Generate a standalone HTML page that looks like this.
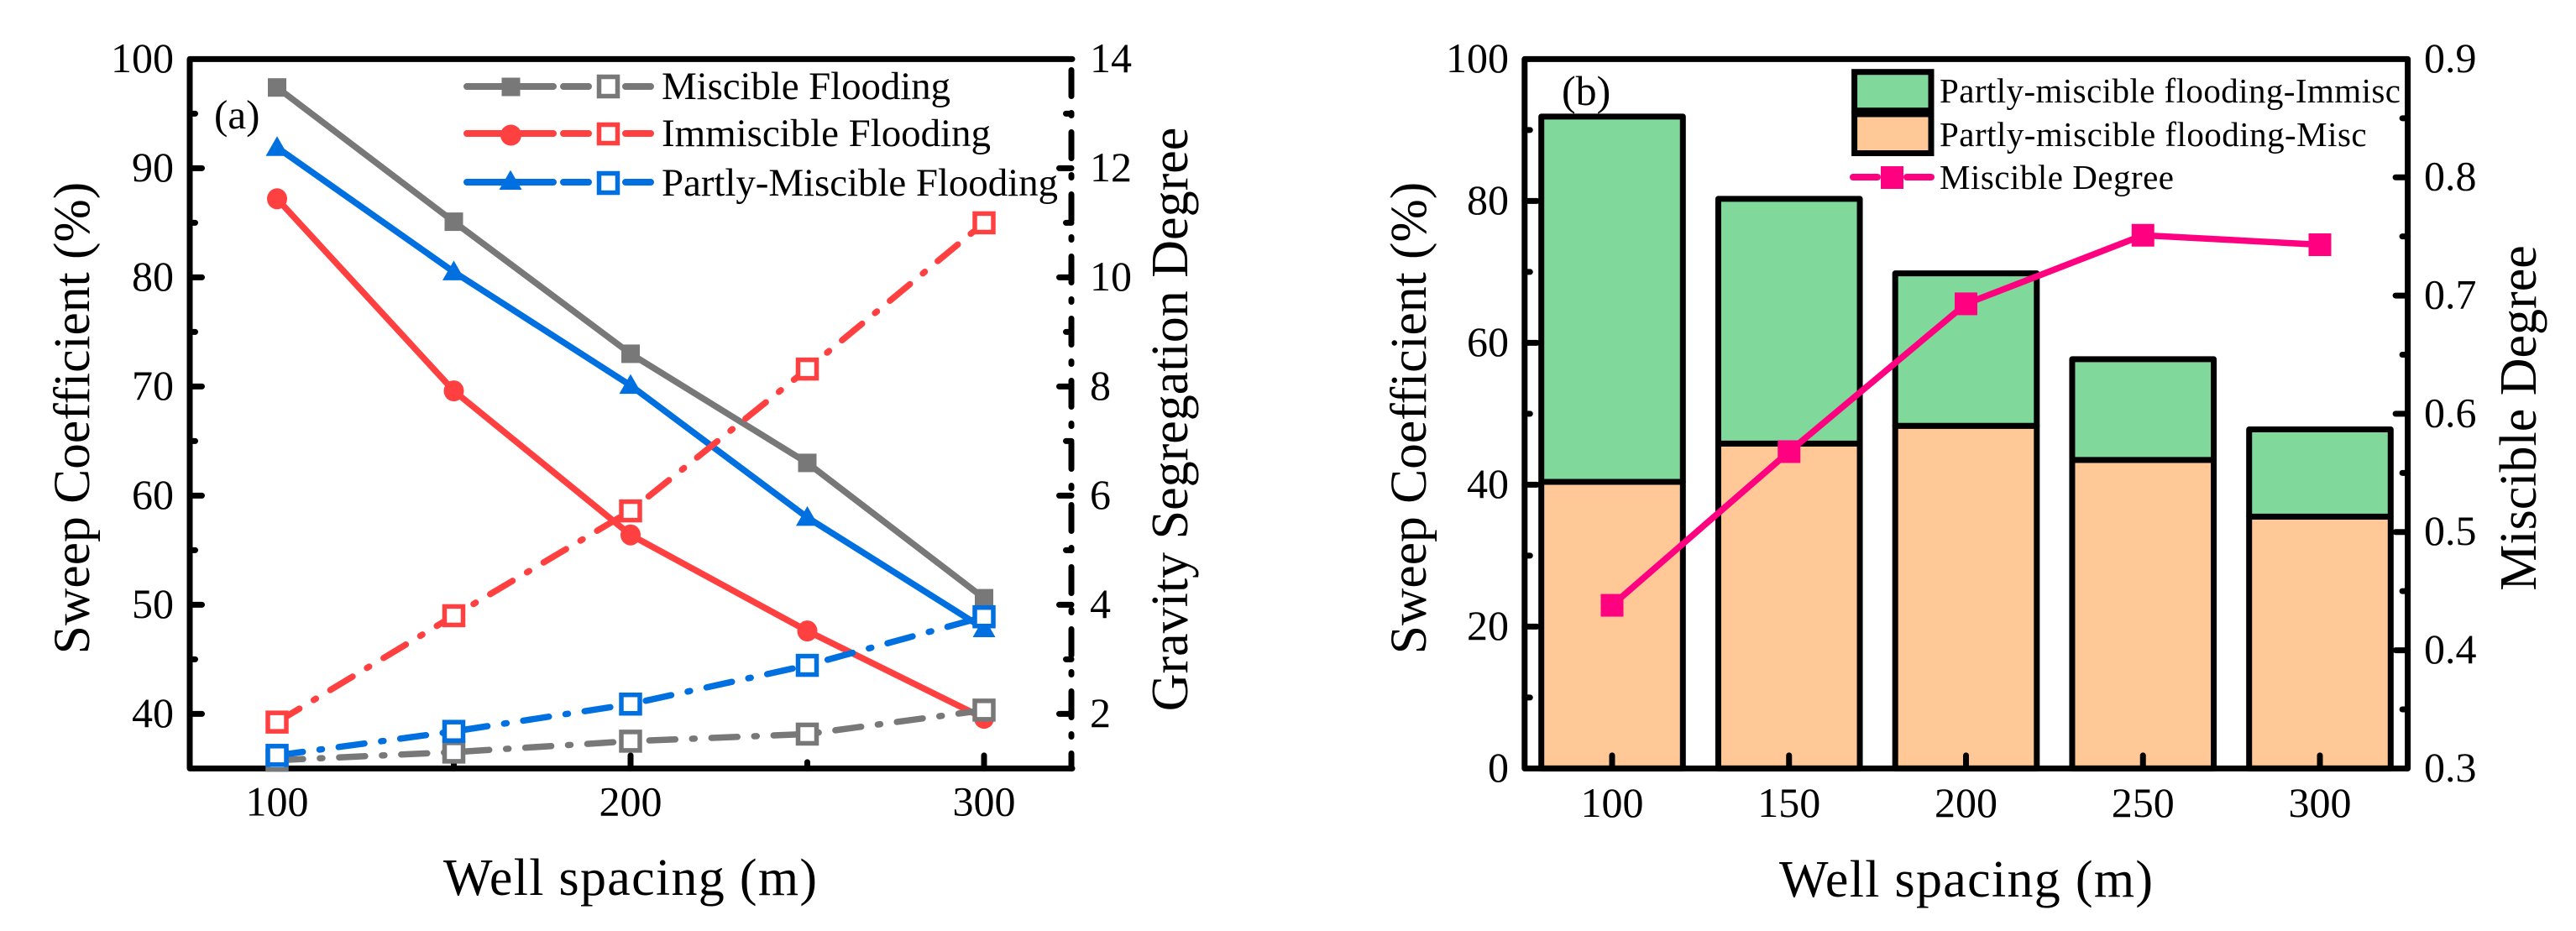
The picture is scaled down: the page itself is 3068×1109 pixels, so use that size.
<!DOCTYPE html>
<html lang="en">
<head>
<meta charset="utf-8">
<title>Sweep coefficient vs well spacing</title>
<style>
  html, body { margin: 0; padding: 0; background: #fff; }
  svg { display: block; font-family: "Liberation Serif", serif; fill: #000; }
</style>
</head>
<body>
<svg id="figure" xmlns="http://www.w3.org/2000/svg" width="3068" height="1109" viewBox="0 0 3068 1109">
  <rect x="0" y="0" width="3068" height="1109" fill="#fff"/>

  <g id="panel-a">
    <g id="a-frame" fill="none" stroke="#000" stroke-width="7">
      <path d="M1277,70.4 H226 V915.4 H1277" stroke-linejoin="round" stroke-linecap="round"/>
      <path d="M1276,83.5 V915.4" stroke-linecap="round" stroke-dasharray="31 20 3 20"/>
    </g>
    <g id="a-ticks"></g>
    <g id="a-series"></g>
    <text x="255" y="153" font-size="49">(a)</text>
    <text transform="translate(106,498) rotate(-90)" text-anchor="middle" font-size="61.5">Sweep Coefficient (%)</text>
    <text transform="translate(1414,499.5) rotate(-90)" text-anchor="middle" font-size="62">Gravity Segregation Degree</text>
    <text x="528" y="1066" font-size="62" textLength="445" lengthAdjust="spacing">Well spacing (m)</text>

    <g id="a-legend" font-size="47">
      <g>
        <g fill="none" stroke="#787878" stroke-width="8" stroke-linecap="round">
          <path d="M556,103 H659 M671,103 H701 M745,103 H775"/>
        </g>
        <rect x="597.5" y="92.5" width="22" height="22" fill="#787878"/>
        <rect x="713.5" y="91.5" width="22" height="23" fill="#fff" stroke="#787878" stroke-width="5.5"/>
        <text x="788" y="118" textLength="344" lengthAdjust="spacing">Miscible Flooding</text>
      </g>
      <g>
        <g fill="none" stroke="#FF4040" stroke-width="8" stroke-linecap="round">
          <path d="M556,159 H659 M671,159 H701 M745,159 H775"/>
        </g>
        <ellipse cx="608.5" cy="161" rx="12.5" ry="12.5" fill="#FF4040"/>
        <rect x="713.5" y="148.5" width="22" height="22" fill="#fff" stroke="#FF4040" stroke-width="5.5"/>
        <text x="788" y="174" textLength="392" lengthAdjust="spacing">Immiscible Flooding</text>
      </g>
      <g>
        <g fill="none" stroke="#0070E0" stroke-width="8" stroke-linecap="round">
          <path d="M556,217 H659 M671,217 H701 M745,217 H775"/>
        </g>
        <path d="M608,202.6 L621.5,226 H594.5 Z" fill="#0070E0"/>
        <rect x="713.5" y="206.5" width="22" height="23" fill="#fff" stroke="#0070E0" stroke-width="5.5"/>
        <text x="788" y="233" textLength="472" lengthAdjust="spacing">Partly-Miscible Flooding</text>
      </g>
    </g>
  </g>

  <g id="panel-b">
    <g id="b-bars"></g>
    <rect x="1815.8" y="70.4" width="1051.8" height="845" fill="none" stroke="#000" stroke-width="7" stroke-linejoin="round"/>
    <g id="b-ticks"></g>
    <g id="b-line"></g>
    <text x="1860" y="125" font-size="50">(b)</text>
    <text transform="translate(1698,498) rotate(-90)" text-anchor="middle" font-size="61.5">Sweep Coefficient (%)</text>
    <text transform="translate(3020,498) rotate(-90)" text-anchor="middle" font-size="62">Miscible Degree</text>
    <text x="2119" y="1068" font-size="62" textLength="445" lengthAdjust="spacing">Well spacing (m)</text>

    <g id="b-legend" font-size="41">
      <g>
        <rect x="2208.6" y="85.7" width="91.4" height="46" fill="#80D89A" stroke="#000" stroke-width="7"/>
        <text x="2310" y="122" textLength="549" lengthAdjust="spacing">Partly-miscible flooding-Immisc</text>
      </g>
      <g>
        <rect x="2208.6" y="136" width="91.4" height="46.5" fill="#FFC896" stroke="#000" stroke-width="7"/>
        <text x="2310" y="174" textLength="508.6" lengthAdjust="spacing">Partly-miscible flooding-Misc</text>
      </g>
      <g>
        <path d="M2207,211 H2236 M2271,211 H2300" fill="none" stroke="#FF0080" stroke-width="8" stroke-linecap="round"/>
        <rect x="2240" y="198" width="27" height="27" fill="#FF0080"/>
        <text x="2310" y="225" textLength="279" lengthAdjust="spacing">Miscible Degree</text>
      </g>
    </g>
  </g>

<script>
// ---- Panel (a) data ----
const wellSpacing = [100, 150, 200, 250, 300];
const miscibleSweep = [97.4, 85.1, 73.0, 63.0, 50.6];
const immiscibleSweep = [87.2, 69.6, 56.4, 47.6, 39.6];
const partlySweep = [91.9, 80.5, 70.1, 58.0, 47.8];
const miscibleGravity = [1.15, 1.3, 1.5, 1.63, 2.07];
const immiscibleGravity = [1.85, 3.8, 5.72, 8.32, 11.0];
const partlyGravity = [1.24, 1.68, 2.18, 2.89, 3.78];
const aLeftMajor = [40, 50, 60, 70, 80, 90, 100];
const aLeftMinor = [45, 55, 65, 75, 85, 95];
const aRightMajor = [2, 4, 6, 8, 10, 12, 14];
const aRightMinor = [3, 5, 7, 9, 11, 13];
const aXMajor = [100, 200, 300];
const aXMinor = [150, 250];

// ---- Panel (b) data ----
const miscPortion = [40.4, 45.8, 48.3, 43.5, 35.5];
const immiscPortion = [51.5, 34.5, 21.5, 14.2, 12.3];
const miscibleDegree = [0.438, 0.568, 0.693, 0.751, 0.743];
const bLeftMajor = [0, 20, 40, 60, 80, 100];
const bLeftMinor = [10, 30, 50, 70, 90];
const bRightMajor = ["0.3", "0.4", "0.5", "0.6", "0.7", "0.8", "0.9"];
const bRightMinor = [0.35, 0.45, 0.55, 0.65, 0.75, 0.85];
const bXMajor = [100, 150, 200, 250, 300];
const barHalfWidth = 20;

const NS = "http://www.w3.org/2000/svg";
function scale(d0, d1, r0, r1) { return v => r0 + (v - d0) * (r1 - r0) / (d1 - d0); }
function make(tag, parent, props) {
  const el = document.createElementNS(NS, tag);
  for (const k in props) el.setAttribute(k, props[k]);
  parent.appendChild(el);
  return el;
}

const ax = scale(100, 300, 330, 1172);
const ayL = scale(35, 100, 915.4, 70.4);
const ayR = scale(1, 14, 915.4, 70.4);
const bx = scale(100, 300, 1920, 2763);
const byL = scale(0, 100, 915.4, 70.4);
const byR = scale(0.3, 0.9, 915.4, 70.4);

const TICK = { stroke: "#000", "stroke-width": 7, "stroke-linecap": "round" };
const MAJOR = 14.5, MINOR = 6.5, LABEL_DY = 15.5, FONT = 50;

function hTick(parent, axisX, dir, y, len) {
  const el = make("line", parent, Object.assign({ x1: axisX, x2: axisX + dir * len, y1: y, y2: y }, TICK));
  
  
}
function vTick(parent, x, axisY, len) {
  const el = make("line", parent, Object.assign({ x1: x, x2: x, y1: axisY, y2: axisY - len }, TICK));
  
  
}
function yLabel(parent, x, y, anchor, str) {
  const el = make("text", parent, { x: x, y: y + LABEL_DY, "text-anchor": anchor, "font-size": FONT });
  el.textContent = str;
  
  
}
function xLabel(parent, x, y, str) {
  const el = make("text", parent, { x: x, y: y, "text-anchor": "middle", "font-size": FONT });
  el.textContent = str;
  
  
}

// ---- Panel (a) axes ----
const aTicks = document.getElementById("a-ticks");
aLeftMajor.forEach(v => {
  if (v !== 100) hTick(aTicks, 226, 1, ayL(v), MAJOR);
  yLabel(aTicks, 207, ayL(v), "end", String(v));
});
aLeftMinor.forEach(v => hTick(aTicks, 226, 1, ayL(v), MINOR));
aRightMajor.forEach(v => {
  if (v !== 14) hTick(aTicks, 1276, -1, ayR(v), MAJOR);
  yLabel(aTicks, 1298, ayR(v), "start", String(v));
});
aRightMinor.forEach(v => hTick(aTicks, 1276, -1, ayR(v), MINOR));
aXMajor.forEach(v => {
  vTick(aTicks, ax(v), 915.4, MAJOR + 1);
  xLabel(aTicks, ax(v), 971.4, String(v));
});
aXMinor.forEach(v => vTick(aTicks, ax(v), 915.4, MINOR + 1));

// ---- Panel (a) series ----
const aSeries = document.getElementById("a-series");
const GREY = "#787878", RED = "#FF4040", BLUE = "#0070E0";

function pointsOf(xs, ys, sx, sy) {
  return xs.map((x, i) => sx(x).toFixed(1) + "," + sy(ys[i]).toFixed(1)).join(" ");
}
function solidSeries(values, color, shape) {
  const line = make("polyline", aSeries, { points: pointsOf(wellSpacing, values, ax, ayL), fill: "none", stroke: color, "stroke-width": 7.5, "stroke-linejoin": "round" });
  
  
  wellSpacing.forEach((x, i) => {
    const cx = ax(x), cy = ayL(values[i]);
    let m;
    if (shape === "square") m = make("rect", aSeries, { x: cx - 11, y: cy - 11, width: 22, height: 22, fill: color });
    else if (shape === "circle") m = make("ellipse", aSeries, { cx: cx, cy: cy, rx: 12, ry: 12.5, fill: color });
    else m = make("polygon", aSeries, { points: (cx) + "," + (cy - 13.5) + " " + (cx + 13.5) + "," + (cy + 10) + " " + (cx - 13.5) + "," + (cy + 10), fill: color });
    
    
  });
}
function hollowLine(values, color) {
  const line = make("polyline", aSeries, { points: pointsOf(wellSpacing, values, ax, ayR), fill: "none", stroke: color, "stroke-width": 7.5, "stroke-linecap": "round", "stroke-linejoin": "round", "stroke-dasharray": "31 20 3 20" });
  
  
}
function hollowMarkers(values, color) {
  wellSpacing.forEach((x, i) => {
    const m = make("rect", aSeries, { x: ax(x) - 11, y: ayR(values[i]) - 11, width: 22, height: 22, fill: "#fff", stroke: color, "stroke-width": 5.5 });
    
    
  });
}
solidSeries(miscibleSweep, GREY, "square");
solidSeries(immiscibleSweep, RED, "circle");
solidSeries(partlySweep, BLUE, "triangle");
hollowLine(miscibleGravity, GREY);
hollowLine(immiscibleGravity, RED);
hollowLine(partlyGravity, BLUE);
hollowMarkers(miscibleGravity, GREY);
hollowMarkers(immiscibleGravity, RED);
hollowMarkers(partlyGravity, BLUE);

// ---- Panel (b) bars ----
const bBars = document.getElementById("b-bars");
wellSpacing.forEach((x, i) => {
  const left = bx(x - barHalfWidth), right = bx(x + barHalfWidth);
  const mid = byL(miscPortion[i]), top = byL(miscPortion[i] + immiscPortion[i]), base = byL(0);
  const lower = make("rect", bBars, { x: left, y: mid, width: right - left, height: base - mid, fill: "#FFC896", stroke: "#000", "stroke-width": 7, "stroke-linejoin": "round" });
  
  
  const upper = make("rect", bBars, { x: left, y: top, width: right - left, height: mid - top, fill: "#80D89A", stroke: "#000", "stroke-width": 7, "stroke-linejoin": "round" });
  
  
});

// ---- Panel (b) axes ----
const bTicks = document.getElementById("b-ticks");
bLeftMajor.forEach(v => {
  if (v !== 0 && v !== 100) hTick(bTicks, 1815.8, 1, byL(v), MAJOR);
  yLabel(bTicks, 1797, byL(v), "end", String(v));
});
bLeftMinor.forEach(v => hTick(bTicks, 1815.8, 1, byL(v), MINOR));
bRightMajor.forEach(s => {
  const v = parseFloat(s);
  if (s !== "0.3" && s !== "0.9") hTick(bTicks, 2867.6, -1, byR(v), MAJOR);
  yLabel(bTicks, 2887, byR(v), "start", s);
});
bRightMinor.forEach(v => hTick(bTicks, 2867.6, -1, byR(v), MINOR));
bXMajor.forEach(v => {
  vTick(bTicks, bx(v), 915.4, MAJOR + 1);
  xLabel(bTicks, bx(v), 973, String(v));
});

// ---- Panel (b) miscible degree line ----
const bLine = document.getElementById("b-line");
const degreeLine = make("polyline", bLine, { points: pointsOf(wellSpacing, miscibleDegree, bx, byR), fill: "none", stroke: "#FF0080", "stroke-width": 7.5, "stroke-linejoin": "round" });


wellSpacing.forEach((x, i) => {
  const m = make("rect", bLine, { x: bx(x) - 13.5, y: byR(miscibleDegree[i]) - 13.5, width: 27, height: 27, fill: "#FF0080" });
  
  
});
</script>
</svg>
</body>
</html>
